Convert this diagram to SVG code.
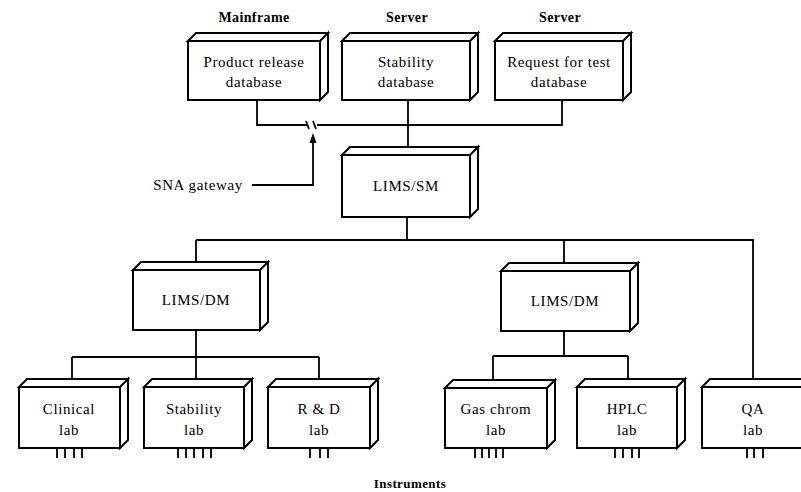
<svg xmlns="http://www.w3.org/2000/svg" width="801" height="492" viewBox="0 0 801 492">
<style>
.box{fill:#fff;stroke:#000;stroke-width:2;stroke-linejoin:miter}
.t{font-family:"Liberation Serif","Times New Roman",serif;font-size:15px;letter-spacing:0.6px;text-anchor:middle;fill:#000}
.h{font-family:"Liberation Serif","Times New Roman",serif;font-size:14px;font-weight:bold;letter-spacing:0.4px;text-anchor:middle;fill:#000}
.c{fill:none;stroke:#000;stroke-width:1.8}
.leg{stroke:#000;stroke-width:1.8}
.ah{fill:#000;stroke:none}
</style>
<rect width="801" height="492" fill="#fff"/>

<text class="h" x="254" y="22">Mainframe</text>
<text class="h" x="407" y="22">Server</text>
<text class="h" x="560" y="22">Server</text>

<g id="connectors">
<path class="c" d="M257,100 V125 H308 M317,125 H562 V100"/>
<path class="c" d="M306,121 L309,129 M313,121 L316,129"/>
<path class="c" d="M408,100 V147"/>
<path class="c" d="M252,185 H313 V141"/>
<polygon class="ah" points="313,133 309.5,143 316.5,143"/>
<path class="c" d="M407,217 V240 M196,240 H753 V379"/>
<path class="c" d="M196,240 V262 M196,330 V357 M72,357 H319 M72,357 V380 M196,357 V380 M319,357 V380"/>
<path class="c" d="M564,240 V263 M564,331 V356 M493,356 H628 M493,356 V381 M628,356 V380"/>
</g>
<text class="t" x="198" y="190">SNA gateway</text>

<g id="product-release-db">
<path class="box" d="M188,41 L196,33 H328 L320,41 Z M320,41 L328,33 V92 L320,100 Z"/>
<rect class="box" x="188" y="41" width="132" height="59"/>
<text class="t" x="254" y="67">Product release</text>
<text class="t" x="254" y="87">database</text>
</g>
<g id="stability-db">
<path class="box" d="M342,41 L350,33 H478 L470,41 Z M470,41 L478,33 V92 L470,100 Z"/>
<rect class="box" x="342" y="41" width="128" height="59"/>
<text class="t" x="406" y="67">Stability</text>
<text class="t" x="406" y="87">database</text>
</g>
<g id="request-db">
<path class="box" d="M495,41 L503,33 H631 L623,41 Z M623,41 L631,33 V92 L623,100 Z"/>
<rect class="box" x="495" y="41" width="128" height="59"/>
<text class="t" x="559" y="67">Request for test</text>
<text class="t" x="559" y="87">database</text>
</g>
<g id="lims-sm">
<path class="box" d="M342,155 L350,147 H478 L470,155 Z M470,155 L478,147 V209 L470,217 Z"/>
<rect class="box" x="342" y="155" width="128" height="62"/>
<text class="t" x="406" y="191">LIMS/SM</text>
</g>
<g id="lims-dm-1">
<path class="box" d="M133,270 L141,262 H268 L260,270 Z M260,270 L268,262 V322 L260,330 Z"/>
<rect class="box" x="133" y="270" width="127" height="60"/>
<text class="t" x="196" y="305">LIMS/DM</text>
</g>
<g id="lims-dm-2">
<path class="box" d="M501,271 L509,263 H638 L630,271 Z M630,271 L638,263 V323 L630,331 Z"/>
<rect class="box" x="501" y="271" width="129" height="60"/>
<text class="t" x="565" y="306">LIMS/DM</text>
</g>

<g id="clinical-lab">
<path class="box" d="M19,387 L27,379 H128 L120,387 Z M120,387 L128,379 V440 L120,448 Z"/>
<rect class="box" x="19" y="387" width="101" height="61"/>
<text class="t" x="69" y="414">Clinical</text>
<text class="t" x="69" y="435">lab</text>
<path class="leg" d="M57,448 V458 M65,448 V458 M74,448 V458 M82,448 V458"/>
</g>
<g id="stability-lab">
<path class="box" d="M144,387 L152,379 H252 L244,387 Z M244,387 L252,379 V440 L244,448 Z"/>
<rect class="box" x="144" y="387" width="100" height="61"/>
<text class="t" x="194" y="414">Stability</text>
<text class="t" x="194" y="435">lab</text>
<path class="leg" d="M178,448 V458 M186,448 V458 M194,448 V458 M203,448 V458 M211,448 V458"/>
</g>
<g id="rd-lab">
<path class="box" d="M268,387 L276,379 H378 L370,387 Z M370,387 L378,379 V440 L370,448 Z"/>
<rect class="box" x="268" y="387" width="102" height="61"/>
<text class="t" x="319" y="414">R &amp; D</text>
<text class="t" x="319" y="435">lab</text>
<path class="leg" d="M310,448 V458 M320,448 V458 M328,448 V458"/>
</g>
<g id="gas-chrom-lab">
<path class="box" d="M445,388 L453,380 H555 L547,388 Z M547,388 L555,380 V440 L547,448 Z"/>
<rect class="box" x="445" y="388" width="102" height="60"/>
<text class="t" x="496" y="414">Gas chrom</text>
<text class="t" x="496" y="435">lab</text>
<path class="leg" d="M475,448 V458 M482,448 V458 M489,448 V458 M496,448 V458 M503,448 V458"/>
</g>
<g id="hplc-lab">
<path class="box" d="M577,387 L585,379 H685 L677,387 Z M677,387 L685,379 V440 L677,448 Z"/>
<rect class="box" x="577" y="387" width="100" height="61"/>
<text class="t" x="627" y="414">HPLC</text>
<text class="t" x="627" y="435">lab</text>
<path class="leg" d="M615,448 V458 M623,448 V458 M632,448 V458 M639,448 V458"/>
</g>
<g id="qa-lab">
<path class="box" d="M702,387 L710,379 H811 L803,387 Z M803,387 L811,379 V440 L803,448 Z"/>
<rect class="box" x="702" y="387" width="101" height="61"/>
<text class="t" x="753" y="414">QA</text>
<text class="t" x="753" y="435">lab</text>
<path class="leg" d="M747,448 V458 M754,448 V458 M763,448 V458"/>
</g>

<text class="h" x="410" y="488" style="font-size:13px">Instruments</text>
</svg>
